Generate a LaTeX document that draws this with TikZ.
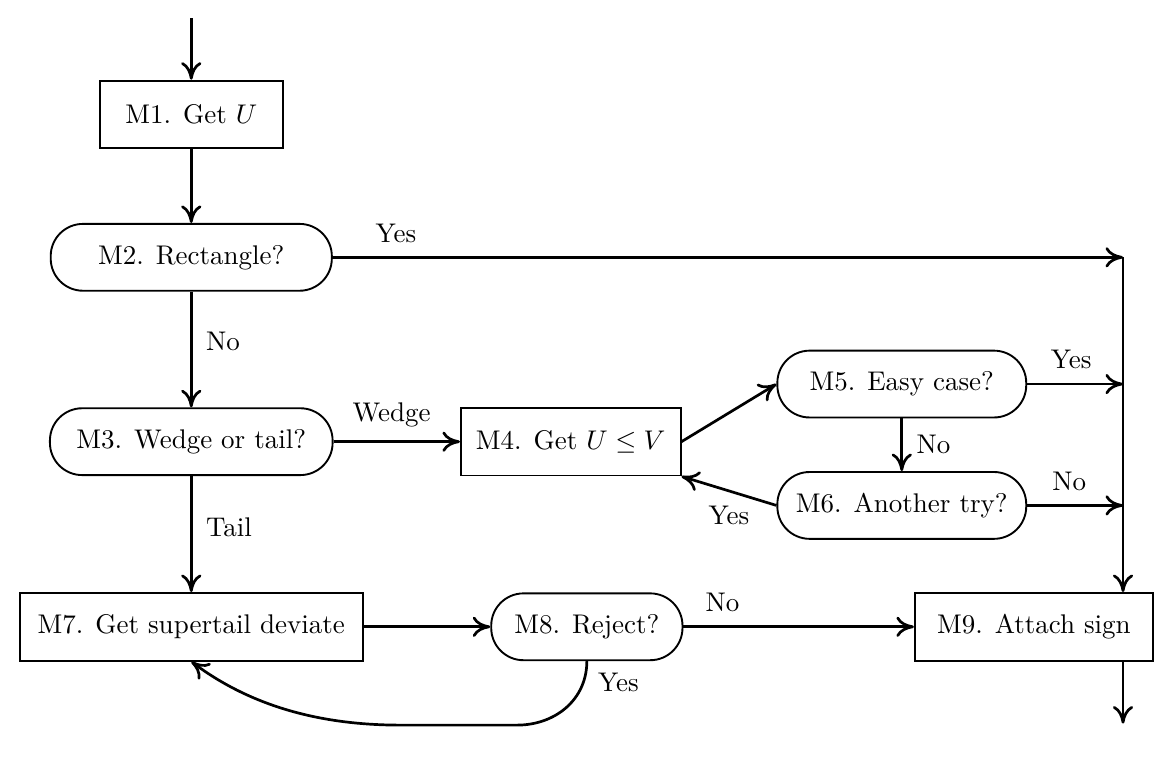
\documentclass[tikz,border=0pt]{standalone}
\usepackage{amssymb}
\usepackage{amsmath}
\usetikzlibrary{arrows.meta}

\begin{document}
\begin{tikzpicture}[
		box/.style={draw, line width=0.7pt, minimum height=0.88cm, inner sep=0pt},
		decision/.style={draw, line width=0.7pt, rounded corners=0.42cm, minimum height=0.87cm, inner sep=0pt},
		flow/.style={-{Computer Modern Rightarrow[length=6.5pt,width=7.5pt]}, line width=1pt},
		lbl/.style={inner sep=5pt}
	]
		\useasboundingbox (0,0) rectangle (15.31,10.16);
		
		% Coordinates
		\coordinate (in) at (2.49, 9.92);
		\coordinate (j1) at (14.62, 6.81);
		\coordinate (out) at (14.62, 0.74);
		\coordinate (loopR) at (6.73, 0.72);
		\coordinate (loopL) at (5.21, 0.72);
		
		% Steps
		\node[box, minimum width=2.38cm] (M1) at (2.49, 8.67) {M1. Get $U$};
		\node[decision, minimum width=3.66cm] (M2) at (2.49, 6.81) {M2. Rectangle?};
		\node[decision, minimum width=3.68cm] (M3) at (2.49, 4.41) {M3. Wedge or tail?};
		\node[box, minimum width=2.86cm] (M4) at (7.43, 4.41) {M4. Get $U \leq V$};
		\node[decision, minimum width=3.24cm] (M5) at (11.74, 5.16) {M5. Easy case?};
		\node[decision, minimum width=3.24cm] (M6) at (11.74, 3.58) {M6. Another try?};
		\node[box, minimum width=4.47cm] (M7) at (2.49, 2.00) {M7. Get supertail deviate};
		\node[decision, minimum width=2.49cm] (M8) at (7.64, 2.00) {M8. Reject?};
		\node[box, minimum width=3.10cm] (M9) at (13.46, 2.00) {M9. Attach sign};
		
		% Main column
		\draw[flow] (in) -- (M1);
		\draw[flow] (M1) -- (M2);
		\draw[flow] (M2) -- node[lbl, right, pos=0.43] (no2) {No} (M3);
		\draw[flow] (M3) -- node[lbl, right, pos=0.44] (tail) {Tail} (M7);
		
		% Wedge
		\draw[flow] (M3) -- node[lbl, above, pos=0.46] (wedge) {Wedge} (M4);
		\draw[flow] (M4.east) -- (M5.west);
		\draw[flow] (M5) -- node[lbl, right] (no5) {No} (M6);
		\draw[flow] (M6.west) -- node[lbl, below] (yes6) {Yes} (M4.south east);
		
		% Exits to M9
		\draw[flow] (M2.east) -- node[lbl, above, pos=0.08] (yes2) {Yes} (j1);
		\draw[flow] (M5.east) -- node[lbl, above, pos=0.46] (yes5) {Yes} (M5.east -| j1);
		\draw[flow] (M6.east) -- node[lbl, above, pos=0.44] (no6) {No} (M6.east -| j1);
		\draw[flow] (j1) -- (j1 |- M9.north);
		
		% Tail
		\draw[flow] (M7) -- (M8);
		\draw[flow] (M8) -- node[lbl, above, pos=0.17] (no8) {No} (M9);
		\draw[flow] (M8.south) .. controls +(0,-0.5) and +(0.5,0) .. node[lbl, right, pos=0.2] (yes8) {Yes} (loopR)
			-- (loopL) .. controls +(-1.0,0) and +(0.8,-0.6) .. (M7.south);
		\draw[flow] (out |- M9.south) -- (out);
	\end{tikzpicture}
\end{document}
